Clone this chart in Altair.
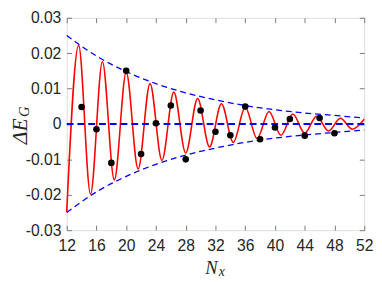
import altair as alt
import pandas as pd

# Black dots (computed points)
dot_nx = [14, 16, 18, 20, 22, 24, 26, 28, 30, 32, 34, 36, 38, 40, 42, 44, 46, 48]
dot_de = [0.0048, -0.0015, -0.0110, 0.0150, -0.0085, 0.0002, 0.0052, -0.0100, 0.0038,
          -0.0022, -0.0032, 0.0049, -0.0043, -0.0010, 0.0014, -0.0033, 0.0017, -0.0026]

# Red oscillating curve: extremes
red_x = [12.0, 13.6, 15.2, 16.8, 18.4, 20.0, 21.6, 23.2, 24.8, 26.4, 28.0, 29.6, 31.2,
         32.8, 34.4, 36.0, 37.6, 39.2, 40.8, 42.4, 44.0, 45.6, 47.2, 48.8, 50.4, 52.0]
red_y = [-0.0249, 0.0222, -0.0198, 0.0176, -0.0158, 0.0146, -0.0127, 0.0114, -0.0103,
         0.0090, -0.0082, 0.0072, -0.0065, 0.0057, -0.0052, 0.0047, -0.0041, 0.0035,
         -0.0032, 0.0028, -0.0026, 0.0022, -0.0020, 0.0016, -0.0015, 0.0013]

# Blue dashed envelope (upper; lower is its mirror)
env_x = [12, 16, 20, 24, 28, 32, 36, 40, 44, 48, 52]
env_up = [0.0250, 0.0192, 0.0148, 0.0114, 0.0088, 0.0068, 0.0052, 0.0040, 0.0031, 0.0024, 0.0017]
env_lo = [-v for v in env_up]

x_ticks = [12, 16, 20, 24, 28, 32, 36, 40, 44, 48, 52]
y_ticks = [-0.03, -0.02, -0.01, 0, 0.01, 0.02, 0.03]

GRAY = "#7a7a7a"
TXT = "#262626"
LF = "Liberation Sans"

xs = alt.Scale(domain=[12, 52], nice=False, zero=False)
ys = alt.Scale(domain=[-0.03, 0.03], nice=False, zero=False)

common = dict(domain=False, grid=False, tickSize=5, offset=-5, tickColor=GRAY, tickWidth=1,
              labelFont=LF, labelFontSize=16, labelColor=TXT, title=None,
              labelFlush=False, labelOverlap=False)

x_bottom = alt.Axis(orient="bottom", values=x_ticks, format="d", labelPadding=8, **common)
y_left = alt.Axis(orient="left", values=y_ticks, labelPadding=6,
                  labelExpr="abs(datum.value) < 1e-9 ? '0' : (datum.value < 0 ? '-' + format(-datum.value, '.2f') : format(datum.value, '.2f'))",
                  **common)
x_top = alt.Axis(orient="top", values=x_ticks, labels=False, **common)
y_right = alt.Axis(orient="right", values=y_ticks, labels=False, **common)

red_df = pd.DataFrame({"x": red_x, "y": red_y})
red = alt.Chart(red_df).mark_line(color="#ff0000", strokeWidth=1.6, interpolate="monotone").encode(
    x=alt.X("x:Q", scale=xs, axis=x_bottom),
    y=alt.Y("y:Q", scale=ys, axis=y_left),
)

env_df = pd.DataFrame({"x": env_x, "up": env_up, "lo": env_lo})
env_u = alt.Chart(env_df).mark_line(color="#0000ff", strokeWidth=1.3, strokeDash=[6, 4],
                                    interpolate="monotone").encode(
    x=alt.X("x:Q", scale=xs, axis=x_top),
    y=alt.Y("up:Q", scale=ys, axis=y_right),
)
env_l = alt.Chart(env_df).mark_line(color="#0000ff", strokeWidth=1.3, strokeDash=[6, 4],
                                    interpolate="monotone").encode(
    x=alt.X("x:Q", scale=xs, axis=None),
    y=alt.Y("lo:Q", scale=ys, axis=None),
)

zero_df = pd.DataFrame({"x": [12, 52], "y": [0, 0]})
zero = alt.Chart(zero_df).mark_line(color="#0000ff", strokeWidth=2, strokeDash=[7, 4]).encode(
    x=alt.X("x:Q", scale=xs, axis=None),
    y=alt.Y("y:Q", scale=ys, axis=None),
)

dots_df = pd.DataFrame({"nx": dot_nx, "de": dot_de})
dots = alt.Chart(dots_df).mark_circle(color="black", size=45, opacity=1).encode(
    x=alt.X("nx:Q", scale=xs, axis=None),
    y=alt.Y("de:Q", scale=ys, axis=None),
)

SERIF = "Liberation Serif"
t_df = pd.DataFrame({"a": [0]})
ytitle = alt.Chart(t_df).mark_text(text="ΔE", font=SERIF, fontStyle="italic", fontSize=22,
                                   angle=270, color=TXT, align="center", baseline="middle").encode(
    x=alt.value(-48), y=alt.value(116))
ysub = alt.Chart(t_df).mark_text(text="G", font=SERIF, fontStyle="italic", fontSize=15,
                                 angle=270, color=TXT, align="center", baseline="middle").encode(
    x=alt.value(-44), y=alt.value(96))
xtitle = alt.Chart(t_df).mark_text(text="N", font=SERIF, fontStyle="italic", fontSize=19,
                                   color=TXT, align="center", baseline="middle").encode(
    x=alt.value(148), y=alt.value(256))
xsub = alt.Chart(t_df).mark_text(text="x", font=SERIF, fontStyle="italic", fontSize=14,
                                 color=TXT, align="center", baseline="middle").encode(
    x=alt.value(158.5), y=alt.value(260))

chart = alt.layer(red, env_u, env_l, zero, dots, ytitle, ysub, xtitle, xsub).resolve_axis(
    x="independent", y="independent"
).properties(
    width=304, height=217,
    autosize=alt.AutoSizeParams(type="none"),
    padding={"left": 60, "top": 7, "right": 10, "bottom": 50},
).configure_view(stroke=GRAY, strokeWidth=1).configure(background="white")

chart.save("out.html", embed_options={"renderer": "svg", "actions": False})
